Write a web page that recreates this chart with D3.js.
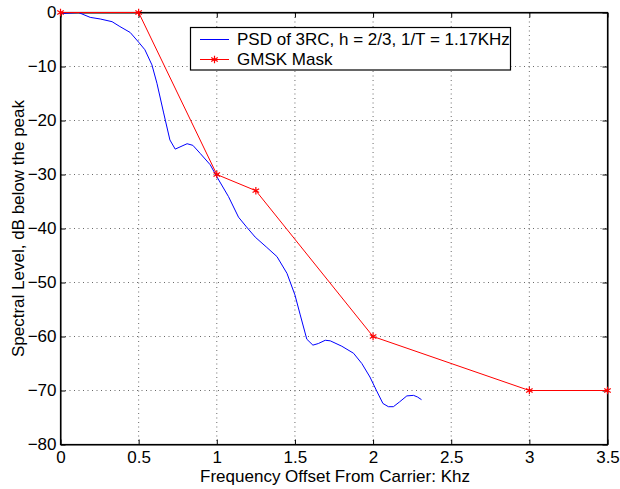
<!DOCTYPE html>
<html>
<head>
<meta charset="utf-8">
<script src="https://cdn.jsdelivr.net/npm/d3@7"></script>
<style>
  body { margin: 0; background: #fff; }
  svg { display: block; font-family: "Liberation Sans", Arial, Helvetica, sans-serif; }
  .grid line { stroke: #444; stroke-dasharray: 1,3.5; stroke-width: 0.8; }
</style>
</head>
<body>
<svg width="620" height="489"></svg>
<script>
// PSD of 3RC curve
var psdFreq = [0, 0.115, 0.19, 0.254, 0.33, 0.38, 0.446, 0.5, 0.54, 0.585, 0.617, 0.66, 0.70, 0.734,
               0.81, 0.847, 0.894, 0.958, 1.0, 1.075, 1.139, 1.19, 1.246, 1.32, 1.385, 1.449, 1.50,
               1.534, 1.576, 1.615, 1.65, 1.694, 1.726, 1.80, 1.875, 1.928, 1.98, 2.02, 2.063, 2.098,
               2.13, 2.17, 2.216, 2.259, 2.284, 2.31];
var psdLevel = [-0.2, 0, -0.9, -1.2, -1.7, -2.6, -3.7, -5.5, -6.9, -9.7, -13.1, -18.6, -23.6, -25.3,
                -24.3, -24.6, -26.1, -28.2, -30.4, -34.1, -37.9, -39.7, -41.6, -43.5, -45.2, -48.3, -52.3,
                -56.0, -60.5, -61.6, -61.3, -60.7, -60.8, -61.8, -63.1, -65.0, -67.5, -69.9, -72.4, -73.0,
                -73.0, -72.1, -71.0, -70.9, -71.2, -71.7];

// GMSK mask
var maskFreq = [0, 0.5, 1, 1.25, 2, 3, 3.5];
var maskLevel = [0, 0, -30, -33, -60, -70, -70];

var xTicks = [0, 0.5, 1, 1.5, 2, 2.5, 3, 3.5];
var yTicks = [0, -10, -20, -30, -40, -50, -60, -70, -80];

var legendLabels = ["PSD of 3RC, h = 2/3, 1/T = 1.17KHz", "GMSK Mask"];
var seriesColors = ["#0000ff", "#ff0000"];

var svg = d3.select("svg");
var mLeft = 60.5, mRight = 607.5, mTop = 12.5, mBottom = 444.5;
var fs = 17;

var x = d3.scaleLinear().domain([0, 3.5]).range([mLeft, mRight]);
var y = d3.scaleLinear().domain([-80, 0]).range([mBottom, mTop]);

var fmt = function(d) { return String(d).replace("-", "\u2212"); };

// grid
var grid = svg.append("g").attr("class", "grid");
grid.selectAll(".gx").data(xTicks.slice(1, -1)).enter().append("line")
    .attr("x1", function(d) { return x(d); }).attr("x2", function(d) { return x(d); })
    .attr("y1", mTop).attr("y2", mBottom);
grid.selectAll(".gy").data(yTicks.slice(1, -1)).enter().append("line")
    .attr("y1", function(d) { return y(d); }).attr("y2", function(d) { return y(d); })
    .attr("x1", mLeft).attr("x2", mRight);

// axes, ticks inward
var tick = 5;
svg.append("g").attr("transform", "translate(0," + mBottom + ")")
    .call(d3.axisBottom(x).tickValues(xTicks).tickSizeInner(-tick).tickSizeOuter(0).tickPadding(6).tickFormat(fmt));
svg.append("g").attr("transform", "translate(0," + mTop + ")")
    .call(d3.axisTop(x).tickValues(xTicks).tickSizeInner(-tick).tickSizeOuter(0).tickFormat(""));
svg.append("g").attr("transform", "translate(" + mLeft + ",0)")
    .call(d3.axisLeft(y).tickValues(yTicks).tickSizeInner(-tick).tickSizeOuter(0).tickPadding(4).tickFormat(fmt));
svg.append("g").attr("transform", "translate(" + mRight + ",0)")
    .call(d3.axisRight(y).tickValues(yTicks).tickSizeInner(-tick).tickSizeOuter(0).tickFormat(""));

svg.selectAll(".tick text").attr("font-size", fs).attr("font-family", "Liberation Sans, Arial, sans-serif").attr("fill", "#000");
svg.selectAll(".tick line").attr("stroke", "#000");
svg.selectAll(".domain").attr("stroke", "#000");

svg.append("rect").attr("x", mLeft).attr("y", mTop)
    .attr("width", mRight - mLeft).attr("height", mBottom - mTop)
    .attr("fill", "none").attr("stroke", "#000").attr("stroke-width", 1.2);

// lines
var line = d3.line().x(function(d) { return x(d[0]); }).y(function(d) { return y(d[1]); });
var psd = d3.zip(psdFreq, psdLevel);
var mask = d3.zip(maskFreq, maskLevel);

svg.append("path").datum(psd).attr("d", line)
    .attr("fill", "none").attr("stroke", seriesColors[0]).attr("stroke-width", 1);
svg.append("path").datum(mask).attr("d", line)
    .attr("fill", "none").attr("stroke", seriesColors[1]).attr("stroke-width", 1);

var star = d3.symbol().type(d3.symbolAsterisk).size(40);
svg.selectAll(".mk").data(mask).enter().append("path")
    .attr("d", star)
    .attr("transform", function(d) { return "translate(" + x(d[0]) + "," + y(d[1]) + ")"; })
    .attr("fill", "none").attr("stroke", seriesColors[1]).attr("stroke-width", 1.2);

// legend
var lg = svg.append("g");
lg.append("rect").attr("x", 190.5).attr("y", 27.5).attr("width", 320).attr("height", 42.5)
    .attr("fill", "#fff").attr("stroke", "#000").attr("stroke-width", 1.2);
legendLabels.forEach(function(lbl, i) {
  var ly = 39.5 + i * 20;
  lg.append("line").attr("x1", 200).attr("x2", 229).attr("y1", ly).attr("y2", ly)
      .attr("stroke", seriesColors[i]).attr("stroke-width", 1);
  if (i == 1) {
    lg.append("path").attr("d", star).attr("transform", "translate(214.5," + ly + ")")
        .attr("fill", "none").attr("stroke", seriesColors[i]).attr("stroke-width", 1.2);
  }
  lg.append("text").attr("x", 237).attr("y", ly).attr("dy", "0.35em")
      .attr("font-size", fs).text(lbl);
});

// titles
svg.append("text").attr("x", 335).attr("y", 482)
    .attr("text-anchor", "middle").attr("font-size", fs)
    .text("Frequency Offset From Carrier: Khz");
svg.append("text").attr("transform", "translate(24," + (mTop + mBottom) / 2 + ") rotate(-90)")
    .attr("text-anchor", "middle").attr("font-size", fs)
    .text("Spectral Level, dB below the peak");
</script>
</body>
</html>
